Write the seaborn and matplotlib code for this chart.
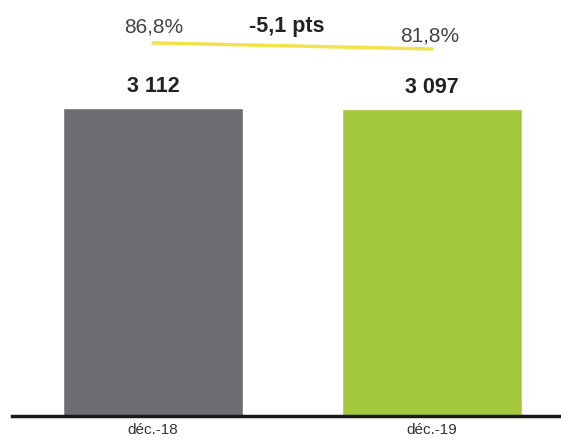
import matplotlib
matplotlib.use("Agg")
import matplotlib.pyplot as plt
import seaborn as sns
import pandas as pd

# Volumes and rates per period
periods = ["déc.-18", "déc.-19"]
volumes = [3112, 3097]
volume_labels = ["3 112", "3 097"]
rates = [86.8, 81.8]
rate_labels = ["86,8%", "81,8%"]
delta_label = "-5,1 pts"
bar_colors = ["#6e6e72", "#a5c93c"]

df = pd.DataFrame({"period": periods, "volume": volumes})

sns.set_style("white")
plt.rcParams["font.family"] = ["Liberation Sans", "DejaVu Sans"]

fig = plt.figure(figsize=(5.61, 4.41), dpi=100)
ax = fig.add_axes([0.0214, 0.0567, 0.9786, 0.9433])

sns.barplot(data=df, x="period", y="volume", hue="period", palette=bar_colors,
            width=0.645, legend=False, ax=ax, saturation=1)

ax.set_xlim(-0.505, 1.462)
ax.set_ylim(0, 4203)
ax.set_xlabel("")
ax.set_ylabel("")
ax.set_yticks([])
ax.tick_params(axis="x", length=0, labelsize=11, labelcolor="#333333", pad=5)
for s in ["top", "right", "left"]:
    ax.spines[s].set_visible(False)
ax.spines["bottom"].set_color("#1a1a1a")
ax.spines["bottom"].set_linewidth(2.5)

# Volume labels above bars
for i, (v, lab) in enumerate(zip(volumes, volume_labels)):
    ax.annotate(lab, (i, v), xytext=(0, 15.5), textcoords="offset points",
                ha="center", va="center", fontsize=15.5, fontweight="bold",
                color="#222222")

# Rate line on a secondary scale
ax2 = ax.twinx()
ax2.set_ylim(-224.1, 122.6)
ax2.set_yticks([])
for s in ax2.spines.values():
    s.set_visible(False)
sns.lineplot(x=[0, 1], y=rates, color="#f2e34c", linewidth=2.5, ax=ax2)
ax2.set_xlim(-0.505, 1.462)

ax2.annotate(rate_labels[0], (0, rates[0]), xytext=(0.7, 11.5),
             textcoords="offset points", ha="center", va="center",
             fontsize=15, color="#444444")
ax2.annotate(rate_labels[1], (1, rates[1]), xytext=(-1.4, 9.4),
             textcoords="offset points", ha="center", va="center",
             fontsize=15, color="#444444")
ax2.annotate(delta_label, (0.5, (rates[0] + rates[1]) / 2), xytext=(-4, 13.7),
             textcoords="offset points", ha="center", va="center",
             fontsize=15.5, fontweight="bold", color="#222222")

fig.savefig("out.png", dpi=100)
